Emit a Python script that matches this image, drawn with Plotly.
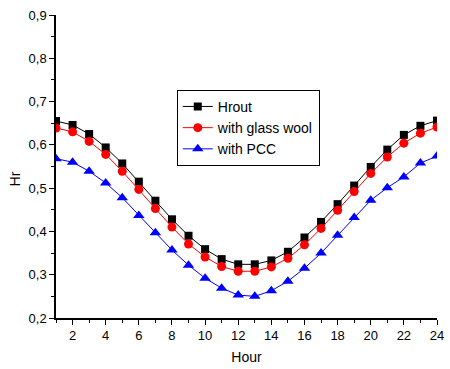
import plotly.graph_objects as go

hours = list(range(1, 25))
hrout = [0.655, 0.646, 0.625, 0.594, 0.557, 0.515, 0.471, 0.428, 0.390, 0.359, 0.336, 0.324,
         0.324, 0.333, 0.353, 0.386, 0.422, 0.463, 0.506, 0.549, 0.589, 0.623, 0.644, 0.656]
glass_wool = [0.639, 0.630, 0.608, 0.578, 0.539, 0.497, 0.453, 0.410, 0.371, 0.341, 0.319, 0.308,
              0.308, 0.318, 0.338, 0.369, 0.407, 0.449, 0.492, 0.534, 0.572, 0.604, 0.627, 0.641]
pcc = [0.568, 0.560, 0.539, 0.512, 0.478, 0.437, 0.397, 0.357, 0.322, 0.292, 0.269, 0.253,
       0.250, 0.263, 0.285, 0.315, 0.350, 0.391, 0.432, 0.472, 0.501, 0.526, 0.558, 0.574]

series = [
    ("Hrout", hrout, "black", "square", 8),
    ("with glass wool", glass_wool, "red", "circle", 9),
    ("with PCC", pcc, "blue", "triangle-up", 10),
]

fig = go.Figure()
for name, vals, col, sym, sz in series:
    fig.add_trace(go.Scatter(
        x=hours, y=vals, name=name, mode="lines+markers",
        line=dict(color=col, width=1),
        marker=dict(color=col, symbol=sym, size=sz),
    ))

font_family = "Liberation Sans, Arial, sans-serif"
fig.update_layout(
    width=450, height=369,
    margin=dict(l=56, r=6, t=15, b=50),
    paper_bgcolor="white", plot_bgcolor="white",
    separators=",.",
    font=dict(family=font_family, size=13, color="black"),
    showlegend=True,
    legend=dict(
        x=0.317, y=0.753, xanchor="left", yanchor="top",
        bgcolor="white", bordercolor="black", borderwidth=1,
        font=dict(size=14, family=font_family, color="black"),
        tracegroupgap=0, itemsizing="trace",
    ),
    annotations=[dict(
        text="Hr", textangle=-90, showarrow=False,
        xref="paper", yref="paper", x=-0.108, y=0.46,
        xanchor="center", yanchor="middle",
        font=dict(size=14, family=font_family, color="black"),
    )],
)
fig.update_xaxes(
    range=[1, 24], tick0=0, dtick=2,
    showgrid=False, zeroline=False,
    showline=True, linecolor="black", linewidth=1.5,
    ticks="outside", ticklen=5, tickcolor="black", tickwidth=1,
    ticklabeloverflow="allow",
    minor=dict(ticks="outside", ticklen=3, dtick=1, tick0=0, tickcolor="black", showgrid=False),
    title=dict(text="Hour", font=dict(size=14), standoff=10),
    tickfont=dict(size=13),
)
fig.update_yaxes(
    range=[0.2, 0.9], tick0=0.2, dtick=0.1, tickformat=".1f",
    showgrid=False, zeroline=False,
    showline=True, linecolor="black", linewidth=1.5,
    ticks="outside", ticklen=5, tickcolor="black", tickwidth=1,
    ticklabeloverflow="allow",
    minor=dict(ticks="outside", ticklen=3, dtick=0.05, tick0=0.2, tickcolor="black", showgrid=False),
    tickfont=dict(size=13),
)

fig.write_html("out.html")
